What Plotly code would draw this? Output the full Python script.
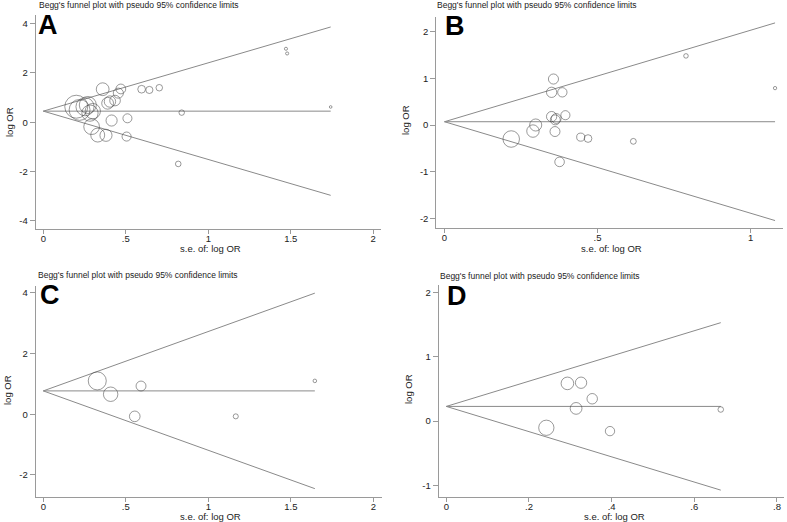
import plotly.graph_objects as go

W, H = 787, 522

# ---------------- data ----------------
a_se = [0.20, 0.22, 0.253, 0.27, 0.283, 0.30, 0.293, 0.33, 0.36, 0.38, 0.39, 0.404,
        0.414, 0.435, 0.455, 0.47, 0.505, 0.51, 0.596, 0.643, 0.703, 0.818, 0.839,
        1.471, 1.478, 1.742]
a_lor = [0.63, 0.50, 0.63, 0.70, 0.37, 0.45, -0.18, -0.52, 1.34, -0.53, 0.77, 0.84,
         0.07, 0.88, 1.18, 1.35, -0.58, 0.16, 1.34, 1.31, 1.40, -1.69, 0.39,
         2.98, 2.79, 0.62]
a_center = 0.45

b_se = [0.218, 0.289, 0.298, 0.350, 0.350, 0.356, 0.361, 0.362, 0.365, 0.376, 0.385,
        0.395, 0.445, 0.469, 0.617, 0.789, 1.08]
b_lor = [-0.30, -0.13, 0.00, 0.70, 0.18, 0.985, -0.14, 0.11, 0.14, -0.79, 0.70,
         0.21, -0.26, -0.29, -0.35, 1.48, 0.79]
b_center = 0.07

c_se = [0.327, 0.408, 0.554, 0.592, 1.166, 1.645]
c_lor = [1.10, 0.66, -0.07, 0.93, -0.07, 1.10]
c_center = 0.77

d_se = [0.242, 0.293, 0.314, 0.326, 0.353, 0.396, 0.664]
d_lor = [-0.104, 0.586, 0.197, 0.596, 0.347, -0.156, 0.18]
d_center = 0.228

x_ticks_ab = [0, 0.5, 1, 1.5, 2]
x_ticklabels_ab = ["0", ".5", "1", "1.5", "2"]
x_ticks_b = [0, 0.5, 1]
x_ticklabels_b = ["0", ".5", "1"]
x_ticks_d = [0, 0.2, 0.4, 0.6, 0.8]
x_ticklabels_d = ["0", ".2", ".4", ".6", ".8"]
y_ticks_a = [-4, -2, 0, 2, 4]
y_ticks_b = [-2, -1, 0, 1, 2]
y_ticks_c = [-2, 0, 2, 4]
y_ticks_d = [-1, 0, 1, 2]

title_text = "Begg's funnel plot with pseudo 95% confidence limits"
panel_labels = ["A", "B", "C", "D"]

# ---------------- helpers ----------------
def px(x):
    return x / W

def py(y):
    return 1 - y / H

FUNNEL = "#8a8a8a"
CIRCLE = "#4a4a4a"
AXIS = "#9a9a9a"
TXT = "#222222"
FONT = "Liberation Sans, Arial, sans-serif"

fig = go.Figure()

panels = [
    # se, lor, center, size factor, axis suffix
    (a_se, a_lor, a_center, 4.6, ""),
    (b_se, b_lor, b_center, 3.6, "2"),
    (c_se, c_lor, c_center, 5.9, "3"),
    (d_se, d_lor, d_center, 3.7, "4"),
]

for se, lor, c, k, sfx in panels:
    xa = "x" + sfx
    ya = "y" + sfx
    m = max(se)
    for yend in (c + 1.96 * m, c, c - 1.96 * m):
        fig.add_trace(go.Scatter(x=[0, m], y=[c, yend], mode="lines",
                                 line=dict(color=FUNNEL, width=1),
                                 xaxis=xa, yaxis=ya, hoverinfo="skip",
                                 showlegend=False))
    fig.add_trace(go.Scatter(x=se, y=lor, mode="markers",
                             marker=dict(symbol="circle-open",
                                         size=[k / s for s in se],
                                         color=CIRCLE,
                                         line=dict(color=CIRCLE, width=0.8)),
                             xaxis=xa, yaxis=ya, showlegend=False))

def xax(domain, rng, tv, tt, anchor):
    return dict(domain=domain, range=rng, tickvals=tv, ticktext=tt, anchor=anchor,
                showline=True, linecolor=AXIS, linewidth=1, ticks="outside",
                ticklen=4, tickcolor=AXIS, showgrid=False, zeroline=False,
                ticklabelstandoff=-3,
                tickfont=dict(family=FONT, size=9.5, color=TXT))

def yax(domain, rng, tv, anchor):
    return dict(domain=domain, range=rng, tickvals=tv, ticktext=[str(v) for v in tv],
                anchor=anchor, showline=True, linecolor=AXIS, linewidth=1,
                ticks="outside", ticklen=5, tickcolor=AXIS, showgrid=False,
                zeroline=False, tickfont=dict(family=FONT, size=9.5, color=TXT))

fig.update_layout(
    width=W, height=H, margin=dict(l=0, r=0, t=0, b=0),
    paper_bgcolor="white", plot_bgcolor="white",
    xaxis=xax([px(35.7), px(381)], [-0.046, 2.047], x_ticks_ab, x_ticklabels_ab, "y"),
    yaxis=yax([py(229), py(15)], [-4.33, 4.35], y_ticks_a, "x"),
    xaxis2=xax([px(436.3), px(782.7)], [-0.0268, 1.105], x_ticks_b, x_ticklabels_b, "y2"),
    yaxis2=yax([py(227.7), py(16.7)], [-2.2, 2.32], y_ticks_b, "x2"),
    xaxis3=xax([px(35.7), px(381.7)], [-0.046, 2.05], x_ticks_ab, x_ticklabels_ab, "y3"),
    yaxis3=yax([py(496.7), py(286)], [-2.72, 4.23], y_ticks_c, "x3"),
    xaxis4=xax([px(438.7), px(784)], [-0.0184, 0.817], x_ticks_d, x_ticklabels_d, "y4"),
    yaxis4=yax([py(497), py(285)], [-1.18, 2.115], y_ticks_d, "x4"),
)

ann = []
for (x, y) in [(37, 5.5), (435, 5.5), (36, 275), (438, 276)]:
    ann.append(dict(x=px(x), y=py(y), xref="paper", yref="paper", text=title_text,
                    showarrow=False, xanchor="left", yanchor="middle",
                    font=dict(family=FONT, size=8.5, color=TXT)))
for lab, (x, y) in zip(panel_labels, [(48, 25), (455, 26), (50, 295), (457, 296)]):
    ann.append(dict(x=px(x), y=py(y), xref="paper", yref="paper", text=lab,
                    showarrow=False, xanchor="center", yanchor="middle",
                    font=dict(family="Liberation Sans Narrow, Arial Narrow, sans-serif",
                              size=27, color="black", weight="bold")))
for (x, y) in [(10, 122), (406, 120), (7, 390), (408, 389)]:
    ann.append(dict(x=px(x), y=py(y), xref="paper", yref="paper", text="log OR",
                    showarrow=False, textangle=-90, xanchor="center", yanchor="middle",
                    font=dict(family=FONT, size=9.5, color=TXT)))
for (x, y) in [(210, 248), (611, 248), (210, 516), (614, 516)]:
    ann.append(dict(x=px(x), y=py(y), xref="paper", yref="paper", text="s.e. of: log OR",
                    showarrow=False, xanchor="center", yanchor="middle",
                    font=dict(family=FONT, size=9.5, color=TXT)))
fig.update_layout(annotations=ann)

fig.write_html("out.html", config={"displayModeBar": False},
               post_script="document.body.style.margin='0';document.body.style.padding='0';"
                           "document.documentElement.style.overflow='hidden';")
